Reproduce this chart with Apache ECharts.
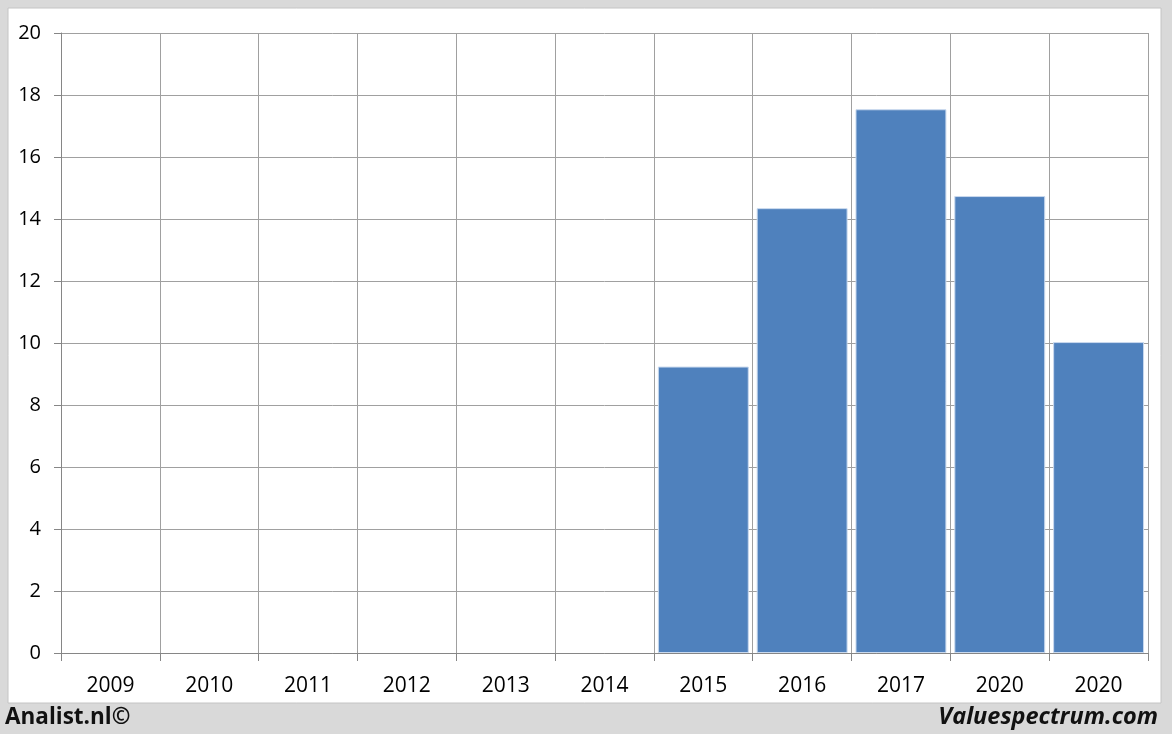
<!DOCTYPE html>
<html><head><meta charset="utf-8">
<script src="https://cdn.jsdelivr.net/npm/echarts@6/dist/echarts.min.js"></script>
<style>html,body{margin:0;padding:0;background:#d9d9d9}#c{width:1172px;height:734px}</style>
</head><body><div id="c"></div>
<script>
const categories = ['2009','2010','2011','2012','2013','2014','2015','2016','2017','2020','2020'];
const values = [null,null,null,null,null,null,9.24,14.35,17.54,14.74,10.03];
const yTicks = {min:0, max:20, interval:2};
const FONT = '"Open Sans", "Liberation Sans", sans-serif';
const chart = echarts.init(document.getElementById('c'));
chart.setOption({
  animation:false,
  backgroundColor:'#d9d9d9',
  graphic:[
    {type:'rect', z:-10, shape:{x:8,y:8,width:1153,height:695}, style:{fill:'#ffffff', stroke:'#c4c4c4', lineWidth:1}},
    {type:'text', x:5, y:718, style:{text:'Analist.nl©', font:'bold 22.5px '+FONT, fill:'#111', textVerticalAlign:'middle', textAlign:'left'}},
    {type:'text', x:1158, y:717, style:{text:'Valuespectrum.com', font:'italic bold 23.5px '+FONT, fill:'#111', textVerticalAlign:'middle', textAlign:'right'}}
  ],
  grid:{left:61,right:24,top:33,bottom:81,containLabel:false},
  xAxis:{
    type:'category', data:categories, boundaryGap:true,
    axisLine:{show:true,lineStyle:{color:'#868686'}},
    axisTick:{show:true,length:8,lineStyle:{color:'#868686'}},
    splitLine:{show:true,lineStyle:{color:'#a0a0a0'}},
    axisLabel:{color:'#000',fontSize:21,fontFamily:FONT,margin:23,interval:0}
  },
  yAxis:{
    type:'value', min:yTicks.min, max:yTicks.max, interval:yTicks.interval,
    axisLine:{show:true,lineStyle:{color:'#868686'}},
    axisTick:{show:true,length:7,lineStyle:{color:'#868686'}},
    splitLine:{show:true,lineStyle:{color:'#a0a0a0'}},
    axisLabel:{color:'#000',fontSize:20,fontFamily:FONT,margin:20}
  },
  series:[{
    type:'bar', data:values, barCategoryGap:'8%',
    itemStyle:{color:'#4f81bd', borderColor:'#c9d9ee', borderWidth:1}
  }]
});
</script></body></html>
